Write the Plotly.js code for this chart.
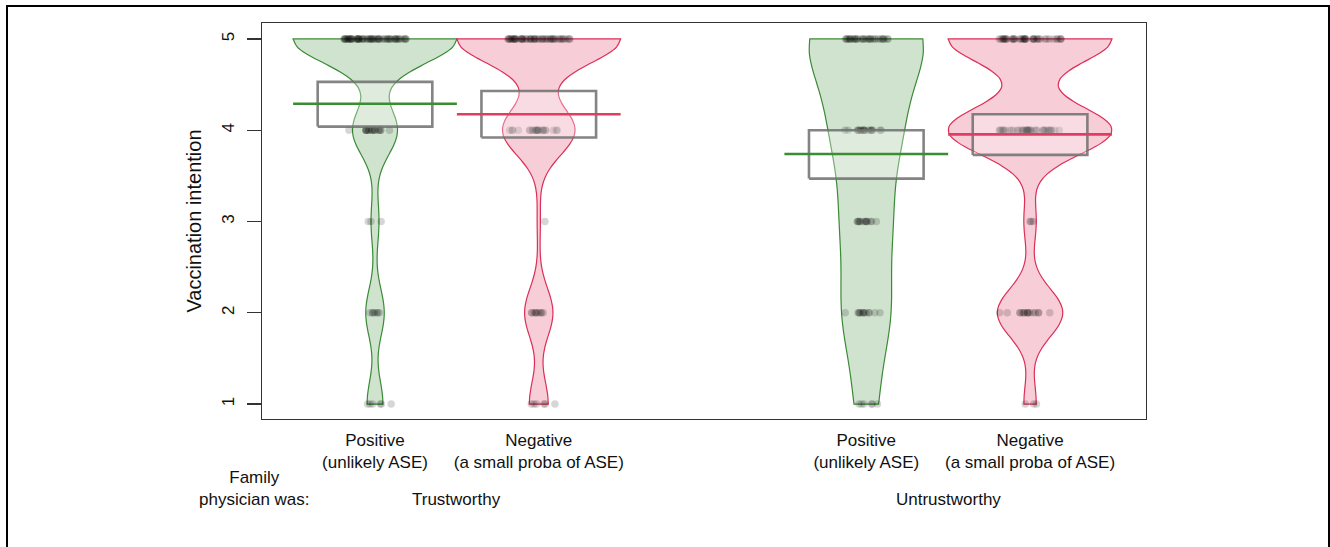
<!DOCTYPE html>
<html><head><meta charset="utf-8">
<script src="https://cdn.plot.ly/plotly-3.0.1.min.js"></script>
<style>
html,body{margin:0;padding:0;background:#fff;overflow:hidden;}
#chart{width:1330px;height:547px;}
#frame{position:absolute;left:6px;top:5px;width:1320px;height:600px;border:2px solid #000;pointer-events:none;}
</style></head><body>
<div id="chart"></div><div id="frame"></div>
<script>
// ---- data ----
const groupNames = ["Trustworthy", "Untrustworthy"];
const levelNames = ["Positive<br>(unlikely ASE)", "Negative<br>(a small proba of ASE)"];
const responseValues = [1, 2, 3, 4, 5];
// counts of answers 1..5 in each condition
const countsTrustworthyPositive = [6, 7, 3, 17, 62];
const countsTrustworthyNegative = [6, 9, 1, 23, 52];
const countsUntrustworthyPositive = [6, 13, 13, 18, 33];
const countsUntrustworthyNegative = [3, 16, 3, 40, 40];
// mean and inference band of each condition
const meanValues = [4.29, 4.175, 3.74, 3.955];
const bandLower = [4.04, 3.92, 3.47, 3.73];
const bandUpper = [4.53, 4.43, 4.00, 4.175];
const sideLabel = "Family<br>physician was:";

// ---- helpers ----
const countSets = [countsTrustworthyPositive, countsTrustworthyNegative, countsUntrustworthyPositive, countsUntrustworthyNegative];
const levelStyles = [
  {line: '#3b8a35', fill: 'rgba(59,138,53,0.24)', mean: '#3a8d33'},
  {line: '#dc2f57', fill: 'rgba(222,46,86,0.24)', mean: '#e23c60'}
];
function expand(counts) {
  const out = [];
  counts.forEach((c, i) => { for (let k = 0; k < c; k++) out.push(responseValues[i]); });
  return out;
}
function quantile(s, p) {
  const h = (s.length - 1) * p, lo = Math.floor(h), hi = Math.min(lo + 1, s.length - 1);
  return s[lo] + (h - lo) * (s[hi] - s[lo]);
}
function bwNrd0(s) {
  const n = s.length, m = s.reduce((a, b) => a + b, 0) / n;
  const sd = Math.sqrt(s.reduce((a, b) => a + (b - m) * (b - m), 0) / (n - 1));
  const iqr = quantile(s, 0.75) - quantile(s, 0.25);
  let lo = Math.min(sd, iqr / 1.34);
  if (!lo) lo = sd || 1;
  return 0.9 * lo * Math.pow(n, -0.2);
}
function maxKde(s, bw) {
  const n = s.length, a = s[0], b = s[n - 1];
  let mx = 0;
  for (let i = 0; i <= 400; i++) {
    const x = a + (b - a) * i / 400;
    let d = 0;
    for (const v of s) { const z = (x - v) / bw; d += Math.exp(-0.5 * z * z); }
    d /= n * bw * Math.sqrt(2 * Math.PI);
    if (d > mx) mx = d;
  }
  return mx;
}

const positions = [], tickText = [], traces = [], boxTraces = [], meanTraces = [];
const groupCenters = [];
const BOX_HALF = 0.35, MEAN_HALF = 0.5, WMIN = 0.3, WMAX = 0.5;

groupNames.forEach((g, gi) => {
  const ps = [];
  levelNames.forEach((lv, li) => {
    const idx = gi * levelNames.length + li;
    const pos = gi * (levelNames.length + 1) + li + 1;
    ps.push(pos);
    positions.push(pos);
    tickText.push(lv);
    const st = levelStyles[li];
    const samples = expand(countSets[idx]);
    const bw = bwNrd0(samples);
    const half = Math.min(Math.max(maxKde(samples, bw), WMIN), WMAX);
    traces.push({
      type: 'violin', x0: pos, y: samples, name: g + ' ' + lv,
      width: 2 * half, spanmode: 'hard', bandwidth: bw, scalemode: 'width',
      line: {color: st.line, width: 1.2}, fillcolor: st.fill,
      points: 'all', pointpos: 0, jitter: 0.38,
      marker: {color: 'rgba(0,0,0,0.16)', size: 7.5, line: {width: 0}},
      box: {visible: false}, meanline: {visible: false},
      hoverinfo: 'y', showlegend: false
    });
    boxTraces.push({
      type: 'scatter', mode: 'lines', showlegend: false, hoverinfo: 'skip',
      x: [pos - BOX_HALF, pos + BOX_HALF, pos + BOX_HALF, pos - BOX_HALF, pos - BOX_HALF],
      y: [bandLower[idx], bandLower[idx], bandUpper[idx], bandUpper[idx], bandLower[idx]],
      fill: 'toself', fillcolor: 'rgba(255,255,255,0.3)',
      line: {color: 'rgba(110,110,110,0.85)', width: 2.6}
    });
    meanTraces.push({
      type: 'scatter', mode: 'lines', showlegend: false, hoverinfo: 'skip',
      x: [pos - MEAN_HALF, pos + MEAN_HALF], y: [meanValues[idx], meanValues[idx]],
      line: {color: st.mean, width: 2.6}
    });
  });
  groupCenters.push(ps.reduce((a, b) => a + b, 0) / ps.length);
});

const L = 262, R = 1146, T = 23, B = 419;
const annotations = groupNames.map((g, gi) => ({
  text: g, x: groupCenters[gi], xref: 'x', y: (B - 499) / (B - T), yref: 'paper',
  xanchor: 'center', yanchor: 'middle', showarrow: false
}));
annotations.push({
  text: sideLabel, x: (254 - L) / (R - L), xref: 'paper', y: (B - 489) / (B - T), yref: 'paper',
  xanchor: 'center', yanchor: 'middle', showarrow: false, align: 'center'
});

const layout = {
  width: 1330, height: 547,
  margin: {l: L, r: 1330 - R, t: T, b: 547 - B, pad: 0},
  paper_bgcolor: '#ffffff', plot_bgcolor: 'rgba(0,0,0,0)',
  showlegend: false, violinmode: 'overlay',
  font: {family: 'Liberation Sans, Arial, sans-serif', size: 17, color: '#111'},
  xaxis: {
    type: 'linear', range: [0.31, 5.708], tickvals: positions, ticktext: tickText,
    ticks: '', showline: true, mirror: true, linecolor: '#333', linewidth: 1.3,
    showgrid: false, zeroline: false, ticklabelstandoff: 5, fixedrange: true
  },
  yaxis: {
    range: [0.836, 5.175], tickvals: responseValues, ticks: 'outside', ticklen: 14,
    tickwidth: 1.3, tickcolor: '#333', tickangle: -90, ticklabelstandoff: 6,
    showline: true, mirror: true, linecolor: '#333', linewidth: 1.3,
    showgrid: false, zeroline: false, fixedrange: true,
    title: {text: 'Vaccination intention', standoff: 12}
  },
  annotations: annotations
};

Plotly.newPlot('chart', traces.concat(boxTraces, meanTraces), layout, {displayModeBar: false, staticPlot: true});
</script></body></html>
